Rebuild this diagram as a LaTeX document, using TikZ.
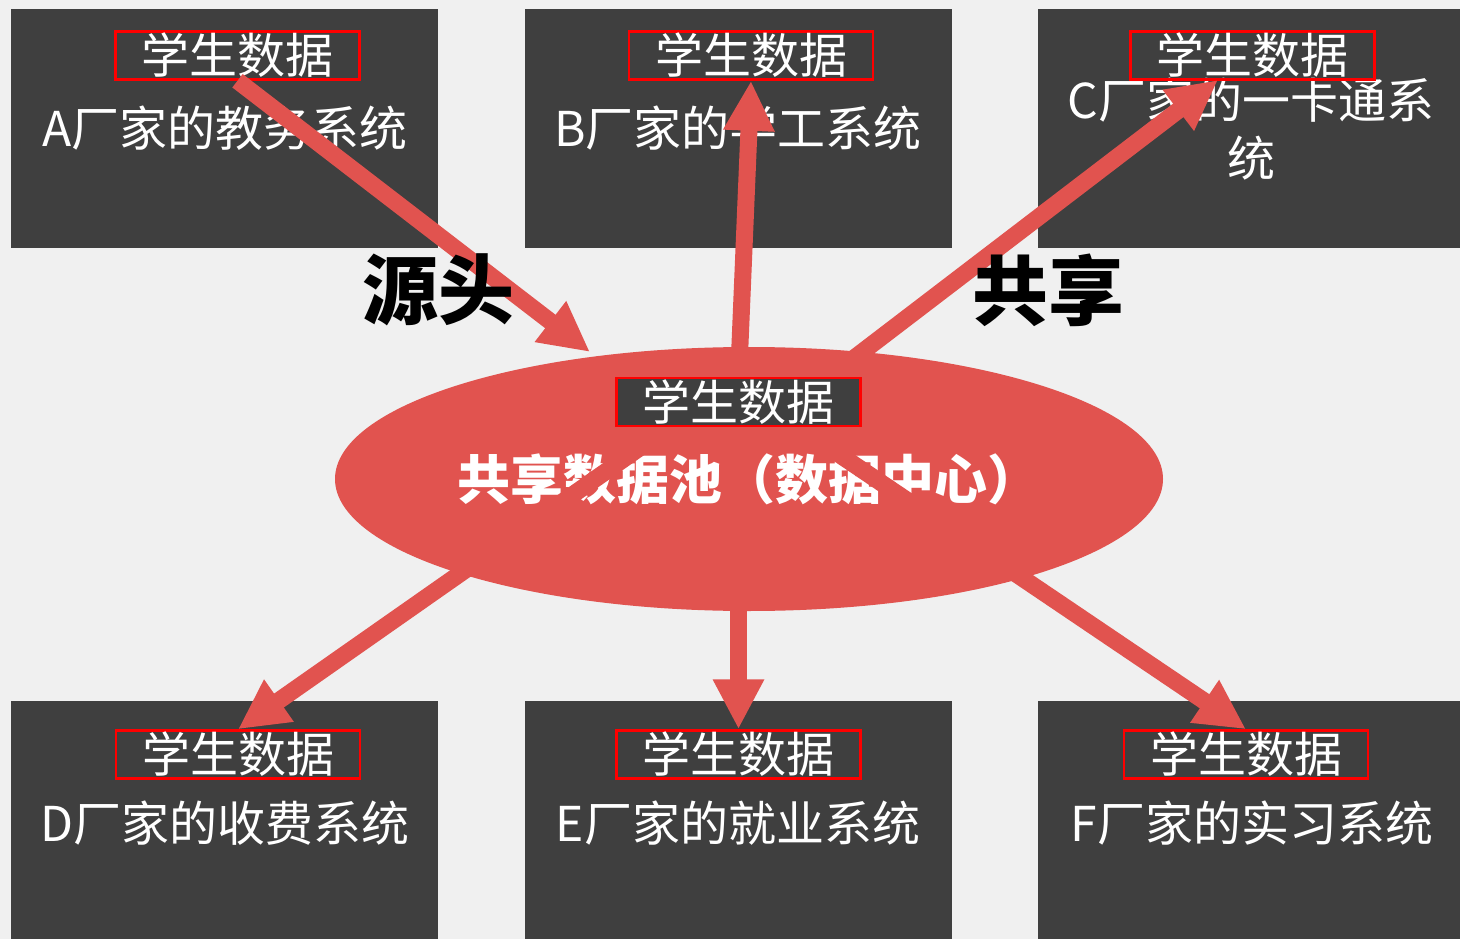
\documentclass[tikz,border=0pt]{standalone}
\usepackage{fontspec}
\newfontfamily\cjk{Noto Sans CJK SC}
\usetikzlibrary{arrows.meta,shapes.geometric}
\definecolor{bg}{HTML}{F0F0F0}
\definecolor{dark}{HTML}{3F3F3F}
\definecolor{ared}{HTML}{E1534F}
\definecolor{lred}{HTML}{FF0000}
\begin{document}
\begin{tikzpicture}[x=1pt,y=-1pt,
 sysbox/.style={rectangle, fill=dark, minimum width=427pt, minimum height=239pt, inner sep=0pt},
 tag/.style={rectangle, draw=lred, line width=2.5pt, minimum width=244pt, minimum height=48pt, inner sep=0pt, text=white, font=\cjk\fontsize{48}{52}\selectfont},
 sysname/.style={text=white, font=\cjk\fontsize{48}{58}\selectfont, align=center, inner sep=0pt},
 flow/.style={draw=ared, line width=17pt, -{Triangle[width=48pt,length=50pt]}},
 big/.style={font=\cjk\bfseries\fontsize{76}{80}\selectfont, text=black, inner sep=0pt}]
\useasboundingbox (0,0) rectangle (1460,939);
\clip (0,0) rectangle (1460,939);
\fill[bg] (0,0) rectangle (1460,939);
% system boxes
\node[sysbox] (boxA) at (224.5,128.5) {};
\node[sysbox] (boxB) at (738.5,128.5) {};
\node[sysbox] (boxC) at (1251.5,128.5) {};
\node[sysbox] (boxD) at (224.5,820.5) {};
\node[sysbox] (boxE) at (738.5,820.5) {};
\node[sysbox] (boxF) at (1251.5,820.5) {};
% names
\node[sysname] (nameA) at (225,128) {A厂家的教务系统};
\node[sysname] (nameB) at (738,128) {B厂家的学工系统};
\node[sysname] (nameC) at (1251,129) {C厂家的一卡通系\\统};
\node[sysname] (nameD) at (225,823) {D厂家的收费系统};
\node[sysname] (nameE) at (738,823) {E厂家的就业系统};
\node[sysname] (nameF) at (1252,823) {F厂家的实习系统};
% tags
\node[tag] (tagA) at (237.5,55.5) {学生数据};
\node[tag] (tagB) at (751,55.5) {学生数据};
\node[tag] (tagC) at (1252.5,55.5) {学生数据};
\node[tag] (tagD) at (238,754.5) {学生数据};
\node[tag] (tagE) at (738.5,754.5) {学生数据};
\node[tag] (tagF) at (1246,754.5) {学生数据};
% pool
\node[ellipse, fill=ared, minimum width=828pt, minimum height=264pt, inner sep=0pt,
      text=white, font=\cjk\bfseries\fontsize{53}{56}\selectfont] (pool) at (749,479) {共享数据池（数据中心）};
% arrows
\coordinate (pA) at (590,352);
\coordinate (sC) at (815,388);
\coordinate (tC) at (1218,80);
\coordinate (sD) at (668,428);
\coordinate (sF) at (800,428);
\coordinate (sB) at (738.5,380);
\coordinate (sE) at (738.5,425);
\draw[flow] (tagA.south) -- (pA);
\draw[flow] (sB) -- (tagB.south);
\draw[flow] (sC) -- (tC);
\draw[flow] (sD) -- (tagD.north);
\draw[flow] (sE) -- (tagE.north);
\draw[flow] (sF) -- (tagF.north);
% pool tag
\node[tag, fill=dark] (pooltag) at (738.5,402) {学生数据};
% big labels
\node[big] (src) at (438,290) {源头};
\node[big] (share) at (1048,290) {共享};
\end{tikzpicture}
\end{document}
